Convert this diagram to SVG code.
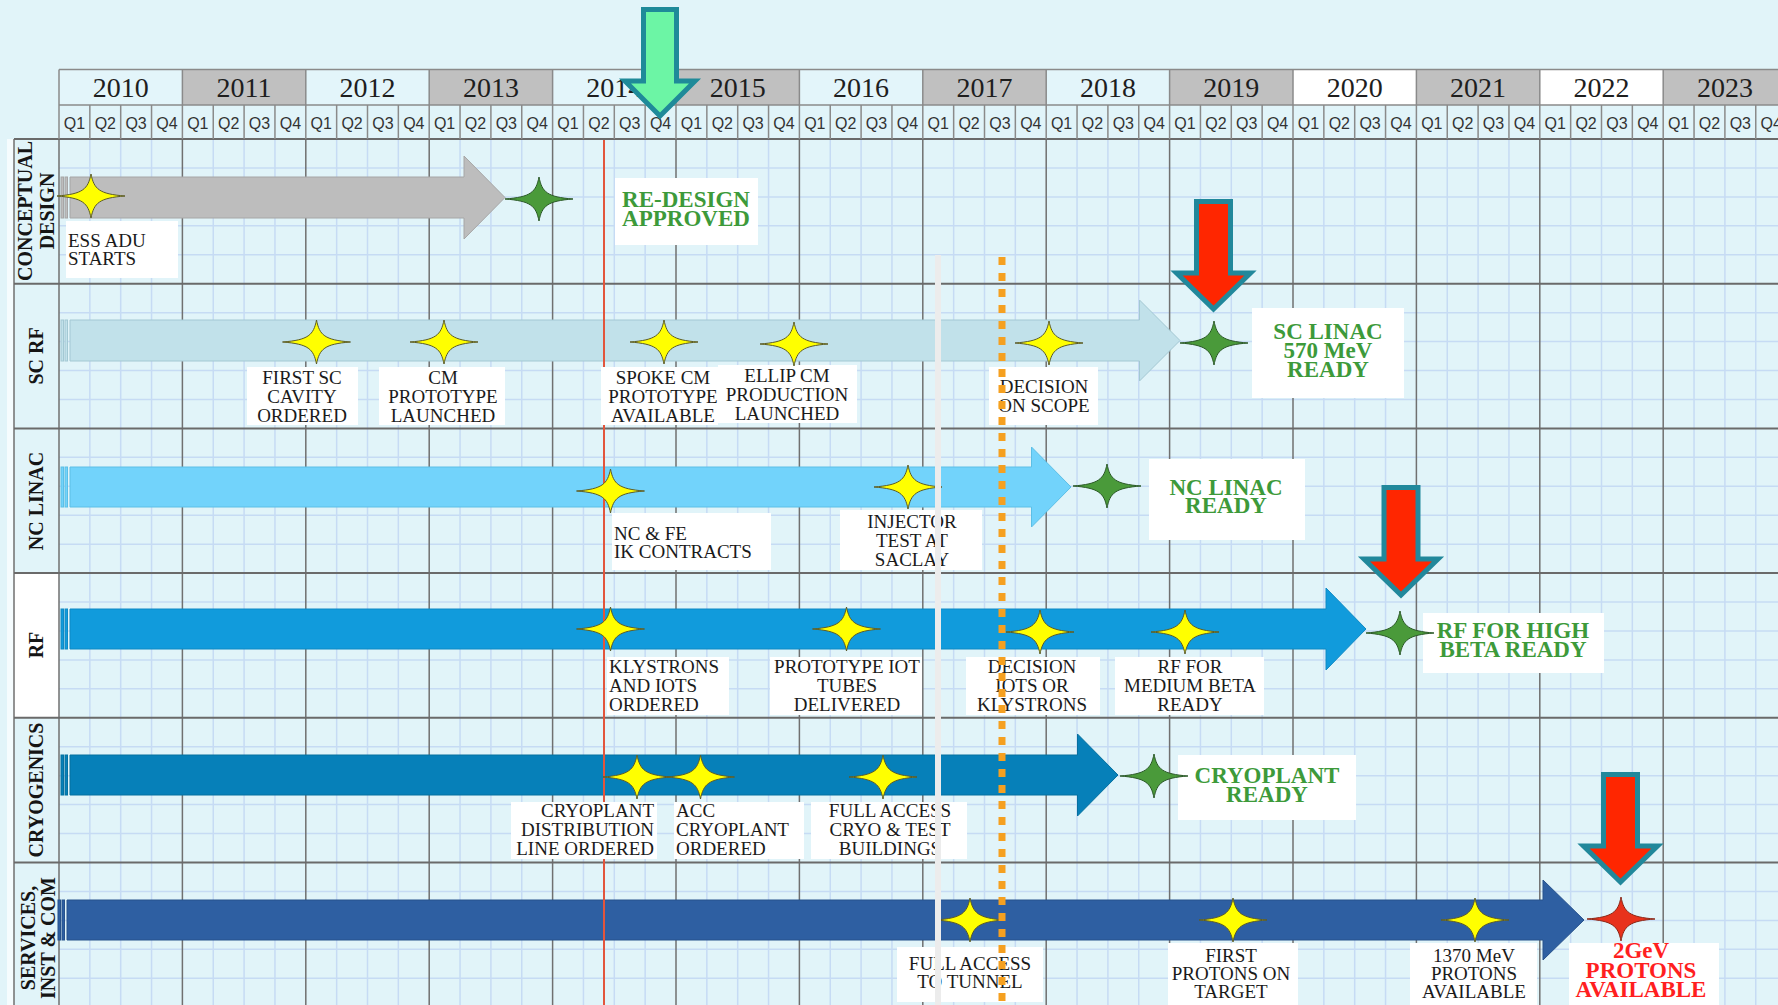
<svg xmlns="http://www.w3.org/2000/svg" width="1778" height="1005" viewBox="0 0 1778 1005">
<style>
.yr{font-family:"Liberation Serif",serif;font-size:28px;fill:#1e1e1e;text-anchor:middle}
.q{font-family:"Liberation Sans",Arial,sans-serif;font-size:16px;fill:#333;text-anchor:middle}
.rl{font-family:"Liberation Serif",serif;font-weight:bold;font-size:20px;fill:#151515;text-anchor:middle}
.lbl{font-family:"Liberation Serif",serif;font-size:19px;fill:#1a1a1a}
.c{text-anchor:middle}
.grn{font-family:"Liberation Serif",serif;font-weight:bold;font-size:23px;fill:#3d9a3a;text-anchor:middle}
.rd{font-family:"Liberation Serif",serif;font-weight:bold;font-size:23px;fill:#ff1f1f;text-anchor:middle}
.box{fill:#fff}
.minor{stroke:#c6dbf4;stroke-width:1.5;fill:none}
.major{stroke:#707070;stroke-width:1.5;fill:none}
.rowl{stroke:#6a6a6a;stroke-width:2;fill:none}
.hdr{stroke:#8a8a8a;stroke-width:1.5}
.ys{fill:#ffff00;stroke:#5a5a2a;stroke-width:1}
.gs{fill:#4a9a3a;stroke:#2d5a2a;stroke-width:1}
.rs{fill:#e8321c;stroke:#8a2a1a;stroke-width:1}
.down{fill:#ff2600;stroke:#21889b;stroke-width:5;stroke-linejoin:miter}
</style>
<defs>
<path id="star" d="M0,-22 C3,-7 8,-2 34,0 C8,2 3,7 0,22 C-3,7 -8,2 -34,0 C-8,-2 -3,-7 0,-22Z"/>
<path id="downArrow" d="M-17,2.5 H17 V74 H37 L0,110 L-37,74 H-17 Z"/>
</defs>
<rect width="1778" height="1005" fill="#e1f4f9"/>

<g id="grid">
<rect x="7" y="139" width="7" height="866" fill="#f5fcfe"/>
<rect x="14" y="573.1" width="45" height="144.7" fill="#ffffff"/>
<path class="minor" d="M89.85 139V1005M120.7 139V1005M151.55 139V1005M213.25 139V1005M244.1 139V1005M274.95 139V1005M336.65 139V1005M367.5 139V1005M398.35 139V1005M460.05 139V1005M490.9 139V1005M521.75 139V1005M583.45 139V1005M614.3 139V1005M645.15 139V1005M706.85 139V1005M737.7 139V1005M768.55 139V1005M830.25 139V1005M861.1 139V1005M891.95 139V1005M953.65 139V1005M984.5 139V1005M1015.35 139V1005M1077.05 139V1005M1107.9 139V1005M1138.75 139V1005M1200.45 139V1005M1231.3 139V1005M1262.15 139V1005M1323.85 139V1005M1354.7 139V1005M1385.55 139V1005M1447.25 139V1005M1478.1 139V1005M1508.95 139V1005M1570.65 139V1005M1601.5 139V1005M1632.35 139V1005M1694.05 139V1005M1724.9 139V1005M1755.75 139V1005"/>
<path class="minor" d="M59 167.94H1778M59 196.88H1778M59 225.82H1778M59 254.76H1778M59 312.64H1778M59 341.58H1778M59 370.52H1778M59 399.46H1778M59 457.34H1778M59 486.28H1778M59 515.22H1778M59 544.16H1778M59 602.04H1778M59 630.98H1778M59 659.92H1778M59 688.86H1778M59 746.74H1778M59 775.68H1778M59 804.62H1778M59 833.56H1778M59 891.44H1778M59 920.38H1778M59 949.32H1778M59 978.26H1778"/>
<path class="major" d="M14 139V1005M59 139V1005M182.4 139V1005M305.8 139V1005M429.2 139V1005M552.6 139V1005M676 139V1005M799.4 139V1005M922.8 139V1005M1046.2 139V1005M1169.6 139V1005M1293 139V1005M1416.4 139V1005M1539.8 139V1005M1663.2 139V1005"/>
<path class="rowl" d="M14 139H1778M14 283.7H1778M14 428.4H1778M14 573.1H1778M14 717.8H1778M14 862.5H1778"/>
</g>

<g id="header">
<rect x="59" y="69.5" width="123.4" height="35.5" fill="#e3f5fa"/>
<rect x="182.4" y="69.5" width="123.4" height="35.5" fill="#c0c0c0"/>
<rect x="305.8" y="69.5" width="123.4" height="35.5" fill="#e3f5fa"/>
<rect x="429.2" y="69.5" width="123.4" height="35.5" fill="#c0c0c0"/>
<rect x="552.6" y="69.5" width="123.4" height="35.5" fill="#e3f5fa"/>
<rect x="676" y="69.5" width="123.4" height="35.5" fill="#c0c0c0"/>
<rect x="799.4" y="69.5" width="123.4" height="35.5" fill="#e3f5fa"/>
<rect x="922.8" y="69.5" width="123.4" height="35.5" fill="#c0c0c0"/>
<rect x="1046.2" y="69.5" width="123.4" height="35.5" fill="#e3f5fa"/>
<rect x="1169.6" y="69.5" width="123.4" height="35.5" fill="#c0c0c0"/>
<rect x="1293" y="69.5" width="123.4" height="35.5" fill="#ffffff"/>
<rect x="1416.4" y="69.5" width="123.4" height="35.5" fill="#c0c0c0"/>
<rect x="1539.8" y="69.5" width="123.4" height="35.5" fill="#ffffff"/>
<rect x="1663.2" y="69.5" width="123.4" height="35.5" fill="#c0c0c0"/>
<path class="hdr" fill="none" d="M59 69.5H1778M59 105H1778M59 69.5V139M182.4 69.5V139M305.8 69.5V139M429.2 69.5V139M552.6 69.5V139M676 69.5V139M799.4 69.5V139M922.8 69.5V139M1046.2 69.5V139M1169.6 69.5V139M1293 69.5V139M1416.4 69.5V139M1539.8 69.5V139M1663.2 69.5V139"/>
<path class="hdr" fill="none" stroke-width="1" d="M89.85 105V139M120.7 105V139M151.55 105V139M213.25 105V139M244.1 105V139M274.95 105V139M336.65 105V139M367.5 105V139M398.35 105V139M460.05 105V139M490.9 105V139M521.75 105V139M583.45 105V139M614.3 105V139M645.15 105V139M706.85 105V139M737.7 105V139M768.55 105V139M830.25 105V139M861.1 105V139M891.95 105V139M953.65 105V139M984.5 105V139M1015.35 105V139M1077.05 105V139M1107.9 105V139M1138.75 105V139M1200.45 105V139M1231.3 105V139M1262.15 105V139M1323.85 105V139M1354.7 105V139M1385.55 105V139M1447.25 105V139M1478.1 105V139M1508.95 105V139M1570.65 105V139M1601.5 105V139M1632.35 105V139M1694.05 105V139M1724.9 105V139M1755.75 105V139"/>
<text class="yr" x="120.7" y="97">2010</text>
<text class="yr" x="244.1" y="97">2011</text>
<text class="yr" x="367.5" y="97">2012</text>
<text class="yr" x="490.9" y="97">2013</text>
<text class="yr" x="614.3" y="97">2014</text>
<text class="yr" x="737.7" y="97">2015</text>
<text class="yr" x="861.1" y="97">2016</text>
<text class="yr" x="984.5" y="97">2017</text>
<text class="yr" x="1107.9" y="97">2018</text>
<text class="yr" x="1231.3" y="97">2019</text>
<text class="yr" x="1354.7" y="97">2020</text>
<text class="yr" x="1478.1" y="97">2021</text>
<text class="yr" x="1601.5" y="97">2022</text>
<text class="yr" x="1724.9" y="97">2023</text>
<g class="q">
<text x="74.4" y="129">Q1</text><text x="105.3" y="129">Q2</text><text x="136.1" y="129">Q3</text><text x="167" y="129">Q4</text>
<text x="197.8" y="129">Q1</text><text x="228.7" y="129">Q2</text><text x="259.5" y="129">Q3</text><text x="290.4" y="129">Q4</text>
<text x="321.2" y="129">Q1</text><text x="352.1" y="129">Q2</text><text x="382.9" y="129">Q3</text><text x="413.8" y="129">Q4</text>
<text x="444.6" y="129">Q1</text><text x="475.5" y="129">Q2</text><text x="506.3" y="129">Q3</text><text x="537.2" y="129">Q4</text>
<text x="568" y="129">Q1</text><text x="598.9" y="129">Q2</text><text x="629.7" y="129">Q3</text><text x="660.6" y="129">Q4</text>
<text x="691.4" y="129">Q1</text><text x="722.3" y="129">Q2</text><text x="753.1" y="129">Q3</text><text x="784" y="129">Q4</text>
<text x="814.8" y="129">Q1</text><text x="845.7" y="129">Q2</text><text x="876.5" y="129">Q3</text><text x="907.4" y="129">Q4</text>
<text x="938.2" y="129">Q1</text><text x="969.1" y="129">Q2</text><text x="999.9" y="129">Q3</text><text x="1030.8" y="129">Q4</text>
<text x="1061.6" y="129">Q1</text><text x="1092.5" y="129">Q2</text><text x="1123.3" y="129">Q3</text><text x="1154.2" y="129">Q4</text>
<text x="1185" y="129">Q1</text><text x="1215.9" y="129">Q2</text><text x="1246.7" y="129">Q3</text><text x="1277.6" y="129">Q4</text>
<text x="1308.4" y="129">Q1</text><text x="1339.3" y="129">Q2</text><text x="1370.1" y="129">Q3</text><text x="1401" y="129">Q4</text>
<text x="1431.8" y="129">Q1</text><text x="1462.7" y="129">Q2</text><text x="1493.5" y="129">Q3</text><text x="1524.4" y="129">Q4</text>
<text x="1555.2" y="129">Q1</text><text x="1586.1" y="129">Q2</text><text x="1616.9" y="129">Q3</text><text x="1647.8" y="129">Q4</text>
<text x="1678.6" y="129">Q1</text><text x="1709.5" y="129">Q2</text><text x="1740.3" y="129">Q3</text><text x="1771.2" y="129">Q4</text>
</g>
</g>

<g id="row-labels">
<text class="rl" transform="translate(25,211) rotate(-90)" y="7">CONCEPTUAL</text>
<text class="rl" transform="translate(47,211) rotate(-90)" y="7">DESIGN</text>
<text class="rl" transform="translate(36,356) rotate(-90)" y="7">SC RF</text>
<text class="rl" transform="translate(36,501) rotate(-90)" y="7">NC LINAC</text>
<text class="rl" transform="translate(36,645) rotate(-90)" y="7">RF</text>
<text class="rl" transform="translate(36,790) rotate(-90)" y="7">CRYOGENICS</text>
<text class="rl" transform="translate(28,938) rotate(-90)" y="7">SERVICES,</text>
<text class="rl" transform="translate(48,938) rotate(-90)" y="7">INST &amp; COM</text>
</g>

<g id="bar-conceptual" fill="#bdbdbd" stroke="#a6a6a6" stroke-width="1">
<rect x="61" y="177" width="2.5" height="41"/><rect x="65" y="177" width="2.5" height="41"/>
<path d="M70,177 H464 V156 L505,197.5 L464,239 V218 H70 Z"/>
</g>
<g id="bar-scrf" fill="#c1e1ea" stroke="#a3c8d3" stroke-width="1">
<rect x="61" y="320" width="2.5" height="41"/><rect x="65" y="320" width="2.5" height="41"/>
<path d="M70,320 H1139.5 V300 L1180,340.5 L1139.5,381 V361 H70 Z"/>
</g>
<g id="bar-nclinac" fill="#72d3fb" stroke="#5cbfe6" stroke-width="1">
<rect x="61" y="467" width="2.5" height="40"/><rect x="65" y="467" width="2.5" height="40"/>
<path d="M70,467 H1031.5 V447 L1071,487 L1031.5,527 V507 H70 Z"/>
</g>
<g id="bar-rf" fill="#119bdc" stroke="#0e89c4" stroke-width="1">
<rect x="61" y="609" width="2.5" height="40"/><rect x="65" y="609" width="2.5" height="40"/>
<path d="M70,609 H1326 V588 L1366,629 L1326,670 V649 H70 Z"/>
</g>
<g id="bar-cryo" fill="#0680b9" stroke="#05709f" stroke-width="1">
<rect x="61" y="755" width="2.5" height="40"/><rect x="65" y="755" width="2.5" height="40"/>
<path d="M70,755 H1077.5 V734 L1118,775 L1077.5,816 V795 H70 Z"/>
</g>
<g id="bar-services" fill="#2e5fa2" stroke="#27528c" stroke-width="1">
<rect x="58" y="900" width="2.5" height="40"/><rect x="62" y="900" width="2.5" height="40"/>
<path d="M67,900 H1543 V880 L1584,920 L1543,960 V940 H67 Z"/>
</g>

<g id="connectors">
<line id="now-line" x1="604" y1="140" x2="604" y2="1005" stroke="#e2553c" stroke-width="2"/>
</g>

<g id="labels">
<g id="lbl-ess"><rect class="box" x="66" y="221" width="112" height="57"/><text class="lbl" x="68"><tspan x="68" y="247">ESS ADU</tspan><tspan x="68" y="265">STARTS</tspan></text></g>
<g id="lbl-redesign"><rect class="box" x="615" y="178" width="143" height="67"/><text class="grn"><tspan x="686" y="207">RE-DESIGN</tspan><tspan x="686" y="226">APPROVED</tspan></text></g>
<g id="lbl-firstsc"><rect class="box" x="247" y="367" width="111" height="58"/><text class="lbl c"><tspan x="302" y="384">FIRST SC</tspan><tspan x="302" y="403">CAVITY</tspan><tspan x="302" y="422">ORDERED</tspan></text></g>
<g id="lbl-cmproto"><rect class="box" x="379" y="367" width="126" height="58"/><text class="lbl c"><tspan x="443" y="384">CM</tspan><tspan x="443" y="403">PROTOTYPE</tspan><tspan x="443" y="422">LAUNCHED</tspan></text></g>
<g id="lbl-spoke"><rect class="box" x="601" y="367" width="117" height="58"/><text class="lbl c"><tspan x="663" y="384">SPOKE CM</tspan><tspan x="663" y="403">PROTOTYPE</tspan><tspan x="663" y="422">AVAILABLE</tspan></text></g>
<g id="lbl-ellip"><rect class="box" x="718" y="365" width="139" height="58"/><text class="lbl c"><tspan x="787" y="382">ELLIP CM</tspan><tspan x="787" y="401">PRODUCTION</tspan><tspan x="787" y="420">LAUNCHED</tspan></text></g>
<g id="lbl-scope"><rect class="box" x="989" y="367" width="109" height="58"/><text class="lbl c"><tspan x="1044" y="393">DECISION</tspan><tspan x="1044" y="412">ON SCOPE</tspan></text></g>
<g id="lbl-sclinac"><rect class="box" x="1252" y="308" width="152" height="90"/><text class="grn"><tspan x="1328" y="339">SC LINAC</tspan><tspan x="1328" y="358">570 MeV</tspan><tspan x="1328" y="377">READY</tspan></text></g>
<g id="lbl-ncfe"><rect class="box" x="612" y="513" width="159" height="57"/><text class="lbl"><tspan x="614" y="540">NC &amp; FE</tspan><tspan x="614" y="558">IK CONTRACTS</tspan></text></g>
<g id="lbl-injector"><rect class="box" x="840" y="510" width="142" height="60"/><text class="lbl c"><tspan x="912" y="528">INJECTOR</tspan><tspan x="912" y="547">TEST AT</tspan><tspan x="912" y="566">SACLAY</tspan></text></g>
<g id="lbl-nclinac"><rect class="box" x="1149" y="459" width="156" height="81"/><text class="grn"><tspan x="1226" y="495">NC LINAC</tspan><tspan x="1226" y="513">READY</tspan></text></g>
<g id="lbl-klystrons"><rect class="box" x="607" y="657" width="122" height="58"/><text class="lbl"><tspan x="609" y="673">KLYSTRONS</tspan><tspan x="609" y="692">AND IOTS</tspan><tspan x="609" y="711">ORDERED</tspan></text></g>
<g id="lbl-iot"><rect class="box" x="770" y="657" width="152" height="58"/><text class="lbl c"><tspan x="847" y="673">PROTOTYPE IOT</tspan><tspan x="847" y="692">TUBES</tspan><tspan x="847" y="711">DELIVERED</tspan></text></g>
<g id="lbl-decision-iots"><rect class="box" x="966" y="657" width="134" height="58"/><text class="lbl c"><tspan x="1032" y="673">DECISION</tspan><tspan x="1032" y="692">IOTS OR</tspan><tspan x="1032" y="711">KLYSTRONS</tspan></text></g>
<g id="lbl-medium"><rect class="box" x="1115" y="657" width="149" height="58"/><text class="lbl c"><tspan x="1190" y="673">RF FOR</tspan><tspan x="1190" y="692">MEDIUM BETA</tspan><tspan x="1190" y="711">READY</tspan></text></g>
<g id="lbl-highbeta"><rect class="box" x="1423" y="613" width="181" height="60"/><text class="grn"><tspan x="1513" y="638">RF FOR HIGH</tspan><tspan x="1513" y="657">BETA READY</tspan></text></g>
<g id="lbl-distribution"><rect class="box" x="511" y="802" width="146" height="57"/><text class="lbl" text-anchor="end"><tspan x="654" y="817">CRYOPLANT</tspan><tspan x="654" y="836">DISTRIBUTION</tspan><tspan x="654" y="855">LINE ORDERED</tspan></text></g>
<g id="lbl-acc"><rect class="box" x="674" y="802" width="130" height="57"/><text class="lbl"><tspan x="676" y="817">ACC</tspan><tspan x="676" y="836">CRYOPLANT</tspan><tspan x="676" y="855">ORDERED</tspan></text></g>
<g id="lbl-fullcryo"><rect class="box" x="811" y="802" width="156" height="57"/><text class="lbl c"><tspan x="890" y="817">FULL ACCESS</tspan><tspan x="890" y="836">CRYO &amp; TEST</tspan><tspan x="890" y="855">BUILDINGS</tspan></text></g>
<g id="lbl-cryoready"><rect class="box" x="1178" y="755" width="178" height="65"/><text class="grn"><tspan x="1267" y="783">CRYOPLANT</tspan><tspan x="1267" y="802">READY</tspan></text></g>
<g id="lbl-tunnel"><rect class="box" x="897" y="947" width="146" height="55"/><text class="lbl c"><tspan x="970" y="970">FULL ACCESS</tspan><tspan x="970" y="988">TO TUNNEL</tspan></text></g>
<g id="lbl-firstprotons"><rect class="box" x="1168" y="943" width="130" height="62"/><text class="lbl c"><tspan x="1231" y="962">FIRST</tspan><tspan x="1231" y="980">PROTONS ON</tspan><tspan x="1231" y="998">TARGET</tspan></text></g>
<g id="lbl-1370"><rect class="box" x="1410" y="943" width="127" height="62"/><text class="lbl c"><tspan x="1474" y="962">1370 MeV</tspan><tspan x="1474" y="980">PROTONS</tspan><tspan x="1474" y="998">AVAILABLE</tspan></text></g>
<g id="lbl-2gev"><rect class="box" x="1569" y="943" width="150" height="62"/><text class="rd"><tspan x="1641" y="958">2GeV</tspan><tspan x="1641" y="978">PROTONS</tspan><tspan x="1641" y="997">AVAILABLE</tspan></text></g>
</g>

<g id="stars">
<use href="#star" class="ys" x="91" y="196"/>
<use href="#star" class="gs" x="539" y="199"/>
<use href="#star" class="ys" x="316.5" y="342"/>
<use href="#star" class="ys" x="444" y="342"/>
<use href="#star" class="ys" x="664" y="342"/>
<use href="#star" class="ys" x="794" y="344"/>
<use href="#star" class="ys" x="1049" y="343"/>
<use href="#star" class="gs" x="1214" y="343"/>
<use href="#star" class="ys" x="610.5" y="491"/>
<use href="#star" class="ys" x="908" y="487"/>
<use href="#star" class="gs" x="1107" y="486"/>
<use href="#star" class="ys" x="610.5" y="629"/>
<use href="#star" class="ys" x="846.5" y="629"/>
<use href="#star" class="ys" x="1040" y="632"/>
<use href="#star" class="ys" x="1185" y="632"/>
<use href="#star" class="gs" x="1400" y="633"/>
<use href="#star" class="ys" x="637" y="777"/>
<use href="#star" class="ys" x="700.5" y="777"/>
<use href="#star" class="ys" x="883" y="777"/>
<use href="#star" class="gs" x="1154" y="776"/>
<use href="#star" class="ys" x="970" y="920"/>
<use href="#star" class="ys" x="1233" y="920"/>
<use href="#star" class="ys" x="1475" y="920"/>
<use href="#star" class="rs" x="1621" y="919"/>
</g>

<g id="overlay-lines">
<line x1="938" y1="255" x2="938" y2="1005" stroke="#ececec" stroke-width="6"/>
<line x1="1002" y1="257" x2="1002" y2="1005" stroke="#f5a020" stroke-width="7" stroke-dasharray="8 8"/>
</g>

<g id="pointers">
<path id="green-pointer" d="M-16.5,9.5 H16.5 V81 H35 L0,116 L-35,81 H-16.5 Z" transform="translate(660,0)" fill="#6cf5a5" stroke="#1f8a99" stroke-width="5"/>
<use href="#downArrow" class="down" x="1213.5" y="199"/>
<use href="#downArrow" class="down" x="1401" y="485"/>
<use href="#downArrow" class="down" x="1620.5" y="772"/>
</g>
</svg>
